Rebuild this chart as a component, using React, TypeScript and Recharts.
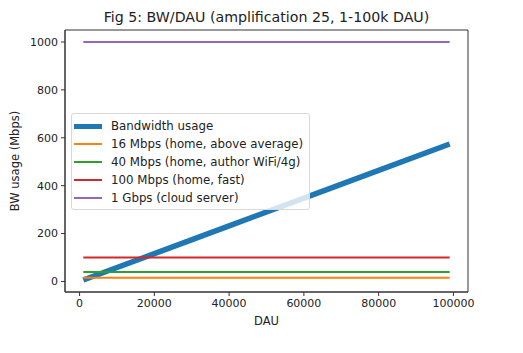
import {
  LineChart,
  Line,
  XAxis,
  YAxis,
  Legend,
  Label,
  ReferenceArea,
} from 'recharts';

const dau = [1000, 20000, 40000, 60000, 80000, 99000];
const bandwidth = [6, 116, 232, 348, 464, 574];
const home16 = [16, 16, 16, 16, 16, 16];
const home40 = [40, 40, 40, 40, 40, 40];
const home100 = [100, 100, 100, 100, 100, 100];
const cloud1g = [1000, 1000, 1000, 1000, 1000, 1000];

const xTicks = [0, 20000, 40000, 60000, 80000, 100000];
const yTicks = [0, 200, 400, 600, 800, 1000];

const xDomain = [-3900, 103900];
const yDomain = [-44, 1050];

const series = [
  { key: 'bw', name: 'Bandwidth usage', color: '#1f77b4', width: 5.5 },
  { key: 'h16', name: '16 Mbps (home, above average)', color: '#ff7f0e', width: 2 },
  { key: 'h40', name: '40 Mbps (home, author WiFi/4g)', color: '#2ca02c', width: 2 },
  { key: 'h100', name: '100 Mbps (home, fast)', color: '#d62728', width: 2 },
  { key: 'c1g', name: '1 Gbps (cloud server)', color: '#9467bd', width: 2 },
];

const data = dau.map((d, i) => ({
  dau: d,
  bw: bandwidth[i],
  h16: home16[i],
  h40: home40[i],
  h100: home100[i],
  c1g: cloud1g[i],
}));

const font = 'DejaVu Sans, sans-serif';
const tickStyle = { fontSize: 11, fill: '#222', fontFamily: font };
const labelStyle = { fontSize: 11.5, fill: '#222', fontFamily: font };

function LegendBox() {
  return (
    <div
      style={{
        border: '1px solid #d8d8d8',
        borderRadius: 3,
        background: 'rgba(255,255,255,0.8)',
        padding: '3px 6px 2px 2px',
        fontFamily: font,
        fontSize: 11.8,
        color: '#222',
      }}
    >
      {series.map((s) => (
        <div key={s.key} style={{ display: 'flex', alignItems: 'center', height: 18 }}>
          <div
            style={{
              width: 28,
              height: s.width > 3 ? 5 : 2,
              background: s.color,
              marginRight: 9,
            }}
          />
          <span style={{ whiteSpace: 'nowrap' }}>{s.name}</span>
        </div>
      ))}
    </div>
  );
}

export default function App() {
  return (
    <div style={{ position: 'relative', width: 515, height: 345 }}>
      <div
        style={{
          position: 'absolute',
          left: 57,
          width: 403,
          top: 1,
          textAlign: 'center',
          fontFamily: font,
          fontSize: 14.2,
          color: '#222',
          zIndex: 1,
        }}
      >
        Fig 5: BW/DAU (amplification 25, 1-100k DAU)
      </div>
      <LineChart
        width={515}
        height={345}
        data={data}
        margin={{ top: 22, right: 55, bottom: 16, left: 0 }}
      >
        <XAxis
          dataKey="dau"
          type="number"
          domain={xDomain}
          ticks={xTicks}
          allowDataOverflow
          height={45}
          tick={tickStyle}
          tickSize={4}
          tickMargin={3}
          stroke="#333"
        >
          <Label value="DAU" position="insideBottom" offset={12} style={labelStyle} />
        </XAxis>
        <YAxis
          type="number"
          domain={yDomain}
          ticks={yTicks}
          allowDataOverflow
          width={57}
          tick={tickStyle}
          tickSize={4}
          tickMargin={3}
          stroke="#333"
        >
          <Label
            value="BW usage (Mbps)"
            angle={-90}
            position="insideLeft"
            offset={7}
            style={{ ...labelStyle, textAnchor: 'middle' }}
          />
        </YAxis>
        <ReferenceArea
          x1={xDomain[0]}
          x2={xDomain[1]}
          y1={yDomain[0]}
          y2={yDomain[1]}
          fill="none"
          stroke="#333"
          strokeWidth={1}
          ifOverflow="visible"
        />
        <Legend
          layout="horizontal"
          verticalAlign="middle"
          align="center"
          wrapperStyle={{ left: 63, top: 105, width: 'auto' }}
          content={() => <LegendBox />}
        />
        {series.map((s) => (
          <Line
            key={s.key}
            dataKey={s.key}
            name={s.name}
            stroke={s.color}
            strokeWidth={s.width}
            dot={false}
            type="linear"
            isAnimationActive={false}
          />
        ))}
      </LineChart>
    </div>
  );
}
